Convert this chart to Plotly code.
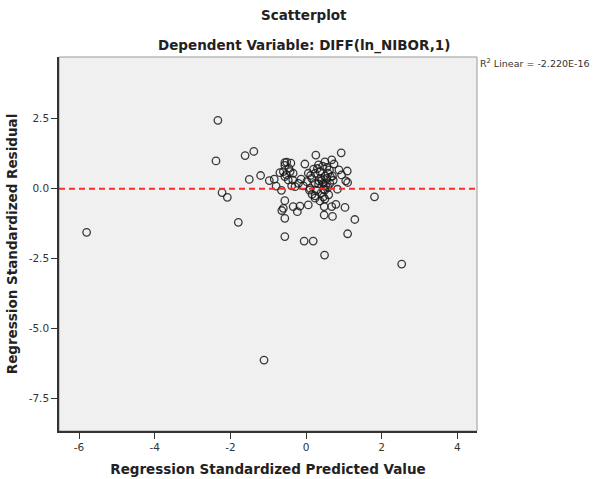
import plotly.graph_objects as go

# Regression standardized predicted values (x) and residuals (y)
pred = [-5.80, -2.33, -2.38, -2.22, -2.08, -1.79, -1.61, -1.38, -1.50, -1.20,
        -1.11, 2.53, 1.81, 1.29, 1.10, 1.03, 1.09, 1.05, 1.10, 0.93,
        -0.97, -0.84, -0.79, -0.65, -0.69, -0.60, -0.56, -0.51, -0.40, -0.56,
        -0.42, -0.34, -0.56, -0.47, -0.35, -0.38, -0.29, -0.20, -0.56, -0.60,
        -0.64, -0.56, -0.56, -0.34, -0.23, -0.16, -0.05, 0.19, 0.49, 0.26,
        -0.03, 0.33, 0.50, 0.68, 0.74, 0.55, 0.62, 0.87, 0.06, 0.24,
        0.37, 0.15, 0.39, 0.50, 0.65, 0.94, 0.02, 0.24, 0.46, 0.63,
        0.83, 0.09, 0.28, 0.50, 0.24, 0.46, -0.13, -0.07, 0.24, 0.37,
        0.50, 0.06, 0.48, 0.68, 0.79, 0.48, 0.70, 0.33, 0.55, 0.70,
        0.11, 0.46, 0.20, 0.42, 0.58, 0.30, 0.44, 0.58, 0.12, 0.34,
        0.52, 0.72, 0.40, 0.16, 0.60, -0.45, -0.52]
resid = [-1.56, 2.44, 0.99, -0.14, -0.31, -1.20, 1.18, 1.33, 0.33, 0.47,
         -6.12, -2.69, -0.29, -1.10, -1.61, -0.67, 0.63, 0.28, 0.22, 1.28,
         0.29, 0.34, 0.09, -0.06, 0.57, 0.61, 0.93, 0.95, 0.91, 0.83,
         0.61, 0.55, 0.43, 0.31, 0.31, 0.10, 0.07, 0.19, -0.43, -0.70,
         -0.78, -1.06, -1.71, -0.64, -0.82, -0.62, -1.87, -1.87, -2.37, 1.20,
         0.88, 0.85, 0.96, 1.03, 0.88, 0.76, 0.67, 0.67, 0.55, 0.55,
         0.61, 0.37, 0.37, 0.45, 0.41, 0.49, 0.25, 0.19, 0.19, 0.19,
         -0.02, -0.05, -0.05, -0.05, -0.26, -0.29, 0.34, 0.10, -0.34, -0.44,
         -0.37, -0.58, -0.64, -0.64, -0.56, -0.94, -0.99, 0.17, 0.37, 0.45,
         0.01, -0.02, 0.70, 0.30, 0.05, 0.72, 0.80, 0.55, 0.47, 0.28,
         0.12, 0.30, -0.15, -0.20, -0.22, 0.72, 0.50]

x_ticks = [-6, -4, -2, 0, 2, 4]
x_tick_text = ["-6", "-4", "-2", "0", "2", "4"]
y_ticks = [2.5, 0.0, -2.5, -5.0, -7.5]
y_tick_text = ["2.5", "0.0", "-2.5", "-5.0", "-7.5"]

fit_intercept = 0.0
r2_text = "R<sup>2</sup> Linear = -2.220E-16"

FONT = "DejaVu Sans"

fig = go.Figure()
fig.add_trace(go.Scatter(
    x=pred, y=resid, mode="markers",
    marker=dict(symbol="circle-open", size=7.5, color="rgba(25,25,25,0.85)",
                line=dict(width=1.3, color="rgba(25,25,25,0.85)")),
    hoverinfo="x+y", showlegend=False))

fig.add_shape(type="line", xref="paper", x0=0, x1=1, yref="y",
              y0=fit_intercept, y1=fit_intercept,
              line=dict(color="#ff2a2a", width=2, dash="6px,4px"))
# top/right gray frame
fig.add_shape(type="rect", xref="paper", yref="paper", x0=0, x1=1, y0=0, y1=1,
              line=dict(color="#9a9a9a", width=1), layer="below")

fig.update_layout(
    width=607, height=479,
    margin=dict(l=59, r=130, t=57, b=48),
    paper_bgcolor="white", plot_bgcolor="#f0f0f0",
    font=dict(family=FONT, size=11, color="#222"),
    showlegend=False,
)
fig.update_xaxes(range=[-6.53, 4.52], tickvals=x_ticks, ticktext=x_tick_text,
                 automargin=False,
                 showgrid=False, zeroline=False, showline=True, linecolor="#333",
                 linewidth=1.5, ticks="outside", ticklen=6, tickcolor="#333",
                 tickfont=dict(size=10.5, color="#333"),
                 title=dict(text="<b>Regression Standardized Predicted Value</b>",
                            font=dict(size=13.5, color="#222"), standoff=12))
fig.update_yaxes(range=[-8.65, 4.70], tickvals=y_ticks, ticktext=y_tick_text,
                 automargin=False,
                 showgrid=False, zeroline=False, showline=True, linecolor="#333",
                 linewidth=1.5, ticks="outside", ticklen=6, tickcolor="#333",
                 tickfont=dict(size=10.5, color="#333"),
                 title=dict(text="<b>Regression Standardized Residual</b>",
                            font=dict(size=13.5, color="#222"), standoff=8))

fig.add_annotation(text="<b>Scatterplot</b>", xref="paper", yref="paper",
                   x=0.585, y=1.112, xanchor="center", yanchor="middle",
                   showarrow=False, font=dict(size=13.5, color="#222"))
fig.add_annotation(text="<b>Dependent Variable: DIFF(ln_NIBOR,1)</b>", xref="paper", yref="paper",
                   x=0.585, y=1.032, xanchor="center", yanchor="middle",
                   showarrow=False, font=dict(size=13.5, color="#222"))
fig.add_annotation(text=r2_text, xref="paper", yref="paper", x=1.003, y=0.985,
                   xanchor="left", yanchor="middle", showarrow=False,
                   font=dict(size=9.5, color="#333"))

fig.write_html("out.html")
